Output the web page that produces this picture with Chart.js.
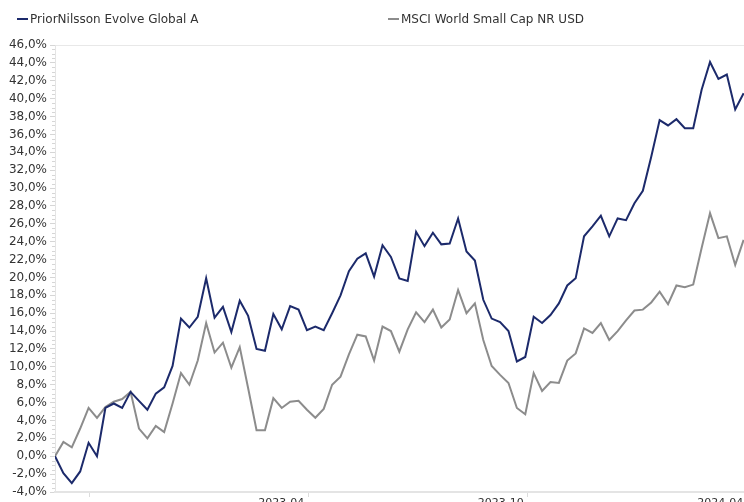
<!DOCTYPE html>
<html>
<head>
<meta charset="utf-8">
<script src="https://cdn.jsdelivr.net/npm/chart.js@4/dist/chart.umd.min.js"></script>
<style>
html, body { margin:0; padding:0; background:#fff; overflow:hidden; width:744px; height:502px; }
#wrap { position:relative; width:800px; height:516px; }
.leg { position:absolute; top:12px; font:12px "DejaVu Sans", sans-serif; color:#333; white-space:nowrap; }
.leg i { display:inline-block; width:11px; height:2px; vertical-align:middle; margin-right:2px; position:relative; top:-1px; }
</style>
</head>
<body>
<div id="wrap">
  <canvas id="grafico" width="800" height="516"></canvas>
  <div class="leg" style="left:17px"><i style="background:#1c2a6b"></i>PriorNilsson Evolve Global A</div>
  <div class="leg" style="left:388px"><i style="background:#8c8c8c"></i>MSCI World Small Cap NR USD</div>
</div>
<script>
// weekly development, %
var startDate = '2022-09-02';
var priorNilsson = [0.0,-1.9,-3.0,-1.7,1.5,0.0,5.4,5.9,5.4,7.2,6.2,5.2,7.0,7.7,10.1,15.4,14.4,15.6,19.9,15.5,
    16.7,13.9,17.4,15.7,12.0,11.8,15.9,14.2,16.8,16.4,14.1,14.5,14.1,16.0,18.0,20.7,22.1,22.7,20.1,23.6,
    22.3,19.9,19.6,25.1,23.5,25.0,23.7,23.8,26.6,22.9,21.9,17.5,15.4,15.0,14.0,10.6,11.1,15.6,14.9,15.8,
    17.1,19.1,19.9,24.6,25.7,26.9,24.6,26.6,26.4,28.3,29.7,33.5,37.6,37.0,37.7,36.7,36.7,41.0,44.1,42.2,
    42.7,38.8,40.6];
var msciSmallCap = [0.0,1.6,1.0,3.1,5.4,4.3,5.5,6.1,6.4,7.2,3.1,2.0,3.4,2.7,5.9,9.3,8.0,10.7,14.9,11.6,
    12.7,9.9,12.2,7.6,2.9,2.9,6.5,5.4,6.1,6.2,5.2,4.3,5.3,8.0,8.9,11.4,13.6,13.4,10.7,14.5,
    14.0,11.7,14.2,16.1,15.0,16.4,14.4,15.3,18.6,16.0,17.1,13.0,10.1,9.1,8.2,5.4,4.7,9.3,7.3,8.3,
    8.2,10.7,11.5,14.3,13.8,14.9,13.0,14.0,15.2,16.3,16.4,17.2,18.4,17.0,19.1,18.9,19.2,23.3,27.2,24.4,
    24.6,21.4,24.2];
var tickDates = ['2022-10-01','2023-04-01','2023-10-01','2024-04-01'];
var tickLabels = ['','2023-04','2023-10','2024-04'];
var endDate = '2024-05-15';

function dias(s){ return (Date.parse(s) - Date.parse(startDate)) / 864e5; }

var semanas = [];
for (var i = 0; i < priorNilsson.length; i++) semanas.push(i * 7);

function pontos(serie){
    return serie.map(function(v, i){ return {x: semanas[i], y: v}; });
}

var fonte = {family:'"DejaVu Sans", sans-serif', size:12};

// small marks between the y ticks
var minorTicks = {
    id:'minorTicks',
    afterDraw: function(chart){
        var y = chart.scales.y, c = chart.ctx, x0 = chart.chartArea.left;
        c.save();
        c.strokeStyle = '#d6d6d6';
        c.lineWidth = 1;
        for (var v = -4; v <= 46; v += 0.5) {
            if (v % 2 === 0) continue;
            var py = Math.round(y.getPixelForValue(v)) + 0.5;
            c.beginPath();
            c.moveTo(x0 - 3, py);
            c.lineTo(x0, py);
            c.stroke();
        }
        c.restore();
    }
};

window.onload = function(){
    var contexto = document.getElementById('grafico').getContext('2d');
    new Chart(contexto, {
        type:'line',
        data:{
            datasets:[{
                label:'PriorNilsson Evolve Global A',
                data:pontos(priorNilsson),
                borderColor:'#1c2a6b',
                borderWidth:2,
                pointRadius:0,
                fill:false
            },{
                label:'MSCI World Small Cap NR USD',
                data:pontos(msciSmallCap),
                borderColor:'#8c8c8c',
                borderWidth:2,
                pointRadius:0,
                fill:false
            }]
        },
        options:{
            responsive:false,
            animation:false,
            layout:{padding:{top:45, left:0, right:0, bottom:0}},
            plugins:{legend:{display:false}, tooltip:{enabled:false}},
            scales:{
                x:{
                    type:'linear',
                    min:0,
                    max:dias(endDate),
                    afterBuildTicks:function(s){
                        s.ticks = tickDates.map(function(d){ return {value:dias(d)}; });
                    },
                    afterFit:function(s){ s.height = 24; },
                    ticks:{
                        autoSkip:false,
                        maxRotation:0,
                        align:'end',
                        labelOffset:-4,
                        padding:0,
                        color:'#333',
                        font:{family:'"DejaVu Sans", sans-serif', size:11},
                        callback:function(v, i){ return tickLabels[i]; }
                    },
                    grid:{drawOnChartArea:false, tickLength:5, color:'#dcdcdc'},
                    border:{color:'#e4e4e4', width:2}
                },
                y:{
                    min:-4,
                    max:46,
                    afterFit:function(s){ s.width = 55; },
                    ticks:{
                        stepSize:2,
                        padding:3,
                        color:'#333',
                        font:fonte,
                        callback:function(v){ return v.toFixed(1).replace('.', ',') + '%'; }
                    },
                    grid:{
                        tickLength:5,
                        tickColor:'#d6d6d6',
                        color:function(c){ return c.tick && c.tick.value === 46 ? '#e8e8e8' : 'rgba(0,0,0,0)'; }
                    },
                    border:{color:'#e4e4e4', width:1}
                }
            }
        },
        plugins:[minorTicks]
    });
};
</script>
</body>
</html>
